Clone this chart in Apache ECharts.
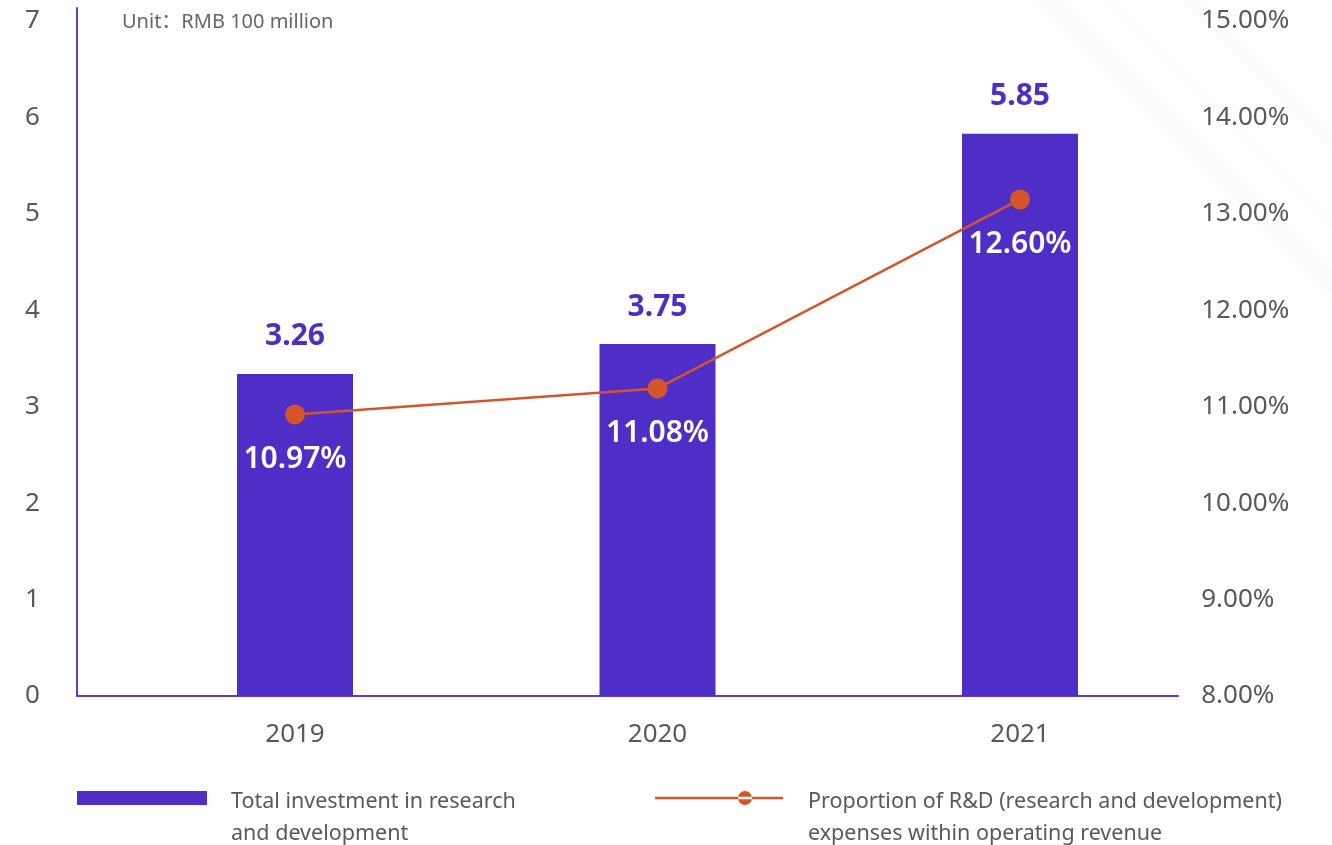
<!DOCTYPE html>
<html>
<head>
<meta charset="utf-8">
<script src="https://cdn.jsdelivr.net/npm/echarts@6/dist/echarts.min.js"></script>
<style>
html,body{margin:0;padding:0;background:#fff;}
#chart{width:1332px;height:845px;}
</style>
</head>
<body>
<div id="chart"></div>
<script>
// ---- data ----
const categories = ['2019', '2020', '2021'];
const investment = [3.34, 3.65, 5.83];            // bar heights as drawn
const investmentLabels = ['3.26', '3.75', '5.85']; // printed values
const rdRatio = [10.92, 11.19, 13.15];             // point heights as drawn (%)
const rdRatioLabels = ['10.97%', '11.08%', '12.60%'];
const seriesNames = ['Total investment in research\nand development',
                     'Proportion of R&D (research and development)\nexpenses within operating revenue'];
const unitText = 'Unit：RMB 100 million';

const FONT = 'Noto Sans';
const PURPLE = '#4f2ec8';
const AXIS = '#5b3bd0';
const ORANGE = '#d4552b';
const GRAY = '#595959';

function legendRich(name) {
  return '{s|}\n' + name.split('\n').map(l => '{t|' + l + '}').join('\n');
}
const legendText = {
  fontSize: 21.5, color: GRAY, fontFamily: FONT,
  rich: {
    s: {height: 40, lineHeight: 40, fontSize: 1},
    t: {fontSize: 21.5, lineHeight: 32, color: GRAY, fontFamily: FONT}
  }
};

const chart = echarts.init(document.getElementById('chart'), null, {renderer: 'canvas'});
chart.setOption({
  animation: false,
  backgroundColor: '#ffffff',
  textStyle: {fontFamily: FONT},
  graphic: [
    {type: 'polygon', silent: true, z: -10,
     shape: {points: [[1035,0],[1060,0],[1332,272],[1332,297]]},
     style: {fill: '#fbfbfe'}},
    {type: 'polygon', silent: true, z: -10,
     shape: {points: [[1100,0],[1115,0],[1332,217],[1332,232]]},
     style: {fill: '#fdfdff'}},
    {type: 'polygon', silent: true, z: -10,
     shape: {points: [[1180,0],[1200,0],[1332,132],[1332,152]]},
     style: {fill: '#fcfcfe'}},
    {type: 'text', left: 122, top: 12,
     style: {text: unitText, font: '20px "Noto Sans", "Noto Sans CJK SC"', fill: '#666666'}}
  ],
  legend: [
    {
      data: [seriesNames[0]],
      left: 77, top: 746, padding: 0,
      itemWidth: 130, itemHeight: 14,
      icon: 'rect',
      selectedMode: false,
      formatter: legendRich,
      textStyle: Object.assign({padding: [0, 0, 0, 19]}, legendText)
    },
    {
      data: [seriesNames[1]],
      left: 655, top: 746, padding: 0,
      itemWidth: 128, itemHeight: 14,
      icon: 'path://M0,5.8L128,5.8L128,8.2L0,8.2Z M83,7a7,7 0 1,0 14,0a7,7 0 1,0 -14,0Z',
      itemStyle: {borderWidth: 0},
      selectedMode: false,
      formatter: legendRich,
      textStyle: Object.assign({padding: [0, 0, 0, 20]}, legendText)
    }
  ],
  grid: [
    {left: 77, right: 154, top: 8, bottom: 149},
    {left: 113.75, right: 130.75, top: 21, bottom: 149}
  ],
  xAxis: [
    {type: 'category', gridIndex: 0, data: categories,
     axisLine: {show: true, lineStyle: {color: AXIS, width: 2}},
     axisTick: {show: false}, axisLabel: {show: false}},
    {type: 'category', gridIndex: 1, data: categories,
     axisLine: {show: false}, axisTick: {show: false},
     axisLabel: {color: GRAY, fontSize: 26, margin: 26, fontFamily: FONT}}
  ],
  yAxis: [
    {type: 'value', gridIndex: 0, min: 0, max: 7,
     axisLine: {show: true, lineStyle: {color: AXIS, width: 2}},
     axisTick: {show: false}, axisLabel: {show: false}, splitLine: {show: false}},
    {type: 'value', gridIndex: 1, min: 0, max: 7, interval: 1, position: 'left',
     axisLine: {show: false}, axisTick: {show: false}, splitLine: {show: false},
     axisLabel: {color: GRAY, fontSize: 26, margin: 74, fontFamily: FONT}},
    {type: 'value', gridIndex: 1, min: 8, max: 15, interval: 1, position: 'right',
     axisLine: {show: false}, axisTick: {show: false}, splitLine: {show: false},
     axisLabel: {color: GRAY, fontSize: 26, margin: 0, fontFamily: FONT,
                 formatter: v => v.toFixed(2) + '%'}}
  ],
  series: [
    {
      name: seriesNames[0], type: 'bar', xAxisIndex: 1, yAxisIndex: 1,
      data: investment, barWidth: 116,
      itemStyle: {color: PURPLE},
      label: {show: true, position: 'top', distance: 22, color: PURPLE,
              fontSize: 30, fontWeight: 'bold', fontFamily: FONT,
              formatter: p => investmentLabels[p.dataIndex]}
    },
    {
      name: seriesNames[1], type: 'line', xAxisIndex: 1, yAxisIndex: 2,
      data: rdRatio, symbol: 'circle', symbolSize: 20,
      itemStyle: {color: ORANGE}, lineStyle: {color: ORANGE, width: 2.5},
      z: 5,
      label: {show: true, position: 'bottom', distance: 20, color: '#ffffff',
              fontSize: 30, fontWeight: 600, fontFamily: FONT,
              formatter: p => rdRatioLabels[p.dataIndex]}
    }
  ]
});
</script>
</body>
</html>
